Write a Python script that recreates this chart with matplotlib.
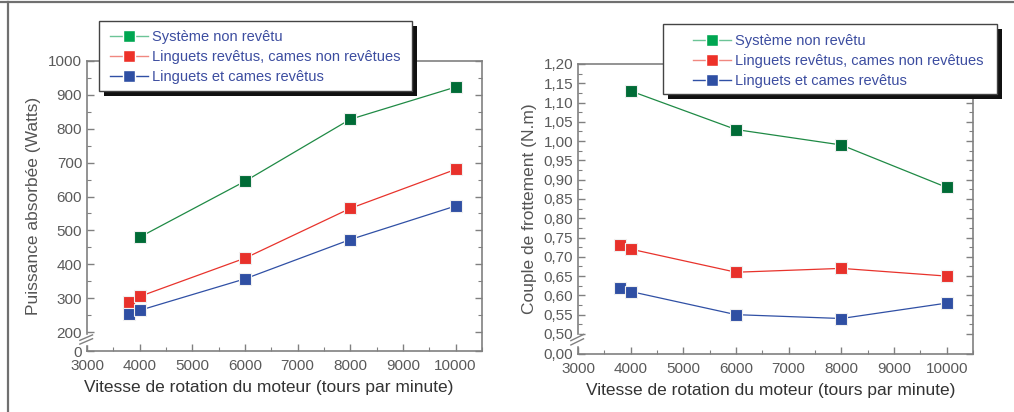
import numpy as np
import matplotlib.pyplot as plt
from matplotlib.lines import Line2D
from matplotlib.patches import Rectangle
from matplotlib.ticker import MultipleLocator, FixedLocator, FuncFormatter
import matplotlib.transforms as mtransforms

plt.rcParams['font.family'] = ['Liberation Sans', 'DejaVu Sans']

# --- data ---
series_names = ["Système non revêtu",
                "Linguets revêtus, cames non revêtues",
                "Linguets et cames revêtus"]

rpm_green = [4000, 6000, 8000, 10000]
rpm_other = [3800, 4000, 6000, 8000, 10000]

power_green = [480, 645, 828, 923]
power_red = [290, 305, 418, 565, 680]
power_blue = [252, 264, 357, 473, 572]

torque_green = [1.13, 1.03, 0.99, 0.88]
torque_red = [0.73, 0.72, 0.66, 0.67, 0.65]
torque_blue = [0.62, 0.61, 0.55, 0.54, 0.58]

# colours
line_cols = ["#1f8a45", "#e8332c", "#3050a5"]
mark_cols = ["#006b36", "#e8312b", "#2f4fa3"]
leg_line_cols = ["#6cc497", "#f08880", "#3050a5"]
leg_mark_cols = ["#00a651", "#ed3129", "#2f4fa3"]
txt_col = "#3c4da0"
tick_col = "#5a5a5a"
spine_col = "#808080"

W, H = 1014, 412
fig = plt.figure(figsize=(W / 100, H / 100), dpi=100)

# outer frame (top and left only)
fig.add_artist(Line2D([0, 1], [0.995, 0.995], transform=fig.transFigure, color="#707070", lw=1.6))
fig.add_artist(Line2D([0.0075, 0.0075], [0, 0.995], transform=fig.transFigure, color="#707070", lw=1.6))

ax1 = fig.add_axes([0.0858, 0.148, 0.3895, 0.704])
ax2 = fig.add_axes([0.570, 0.1408, 0.3896, 0.7039])


def draw(ax, ys, xs):
    for y, x, lc, mc in zip(ys, xs, line_cols, mark_cols):
        ax.plot(x, y, color=lc, lw=0.9, zorder=2)
        ax.plot(x, y, ls="none", marker="s", ms=8, mfc=mc, mec="#f0f0f0", mew=0.8, zorder=3)


def style(ax, break_y, dy, xlab_x):
    for s in ax.spines.values():
        s.set_color(spine_col)
        s.set_linewidth(1.2)
    ax.set_xlim(3000, 10500)
    ax.xaxis.set_major_locator(MultipleLocator(1000))
    ax.xaxis.set_minor_locator(MultipleLocator(500))
    ax.tick_params(which="both", direction="in", colors=spine_col, labelcolor=tick_col,
                   labelsize=11, right=True)
    ax.tick_params(which="major", length=5, width=1)
    ax.tick_params(which="minor", length=3, width=0.8)
    ax.tick_params(axis="x", pad=6)
    ax.set_xlabel("Vitesse de rotation du moteur (tours par minute)", fontsize=12.5,
                  color="#333333", labelpad=5)
    ax.xaxis.label.set_x(xlab_x)
    # axis break marks
    tr = mtransforms.blended_transform_factory(ax.transAxes, ax.transData)
    ax.plot([0, 0], [break_y - dy * 1.3, break_y + dy * 1.3], color="white", lw=2.5,
            transform=tr, clip_on=False, zorder=5)
    for off in (-dy * 0.7, dy * 0.7):
        ax.plot([-0.018, 0.014], [break_y + off - dy, break_y + off + dy], color=spine_col,
                lw=1.0, transform=tr, clip_on=False, zorder=6)


# left panel: power
draw(ax1, [power_green, power_red, power_blue], [rpm_green, rpm_other, rpm_other])
ax1.set_ylim(144, 1000)
ax1.yaxis.set_major_locator(FixedLocator([144] + list(range(200, 1001, 100))))
ax1.yaxis.set_minor_locator(FixedLocator(list(range(250, 1000, 100))))
ax1.yaxis.set_major_formatter(FuncFormatter(lambda v, p: "0" if v < 190 else "%d" % v))
style(ax1, 178, 8, 0.46)
ax1.set_ylabel("Puissance absorbée (Watts)", fontsize=12.5, color="#555555", labelpad=5)

# right panel: torque
draw(ax2, [torque_green, torque_red, torque_blue], [rpm_green, rpm_other, rpm_other])
ax2.set_ylim(0.448, 1.20)
ax2.yaxis.set_major_locator(FixedLocator([0.448] + list(np.arange(0.50, 1.2001, 0.05))))
ax2.yaxis.set_minor_locator(FixedLocator(list(np.arange(0.525, 1.20, 0.05))))
ax2.yaxis.set_major_formatter(FuncFormatter(
    lambda v, p: "0,00" if v < 0.49 else ("%.2f" % v).replace(".", ",")))
style(ax2, 0.485, 0.008, 0.489)
ax2.set_ylabel("Couple de frottement (N.m)", fontsize=12.5, color="#555555", labelpad=5)

# legends: box + black shadow drawn as patches, entries placed inside
handles = [Line2D([], [], color=lc, lw=1.0, marker="s", ms=8.5, mfc=mc, mec="white", mew=1.0)
           for lc, mc in zip(leg_line_cols, leg_mark_cols)]
boxes = [((99, 21, 412, 91), (110, 30)), ((663, 24, 997, 94), (693, 34))]
for ax, ((x0, y0, x1, y1), (hx, hy)) in zip((ax1, ax2), boxes):
    sh = 5
    fig.add_artist(Rectangle(((x0 + sh) / W, 1 - (y1 + sh) / H), (x1 - x0) / W, (y1 - y0) / H,
                             transform=fig.transFigure, facecolor="#111111",
                             edgecolor="none", zorder=20))
    fig.add_artist(Rectangle((x0 / W, 1 - y1 / H), (x1 - x0) / W, (y1 - y0) / H,
                             transform=fig.transFigure, facecolor="white",
                             edgecolor="#444444", lw=1.0, zorder=21))
    leg = ax.legend(handles, series_names, loc="upper left", bbox_to_anchor=(hx / W, 1 - hy / H),
                    bbox_transform=fig.transFigure, fontsize=10.5, frameon=False,
                    borderaxespad=0, borderpad=0,
                    handlelength=2.6, handletextpad=0.3, labelspacing=0.42,
                    labelcolor=txt_col)
    leg.remove()
    fig.add_artist(leg)
    leg.set_zorder(22)

fig.savefig("out.png", dpi=100)
